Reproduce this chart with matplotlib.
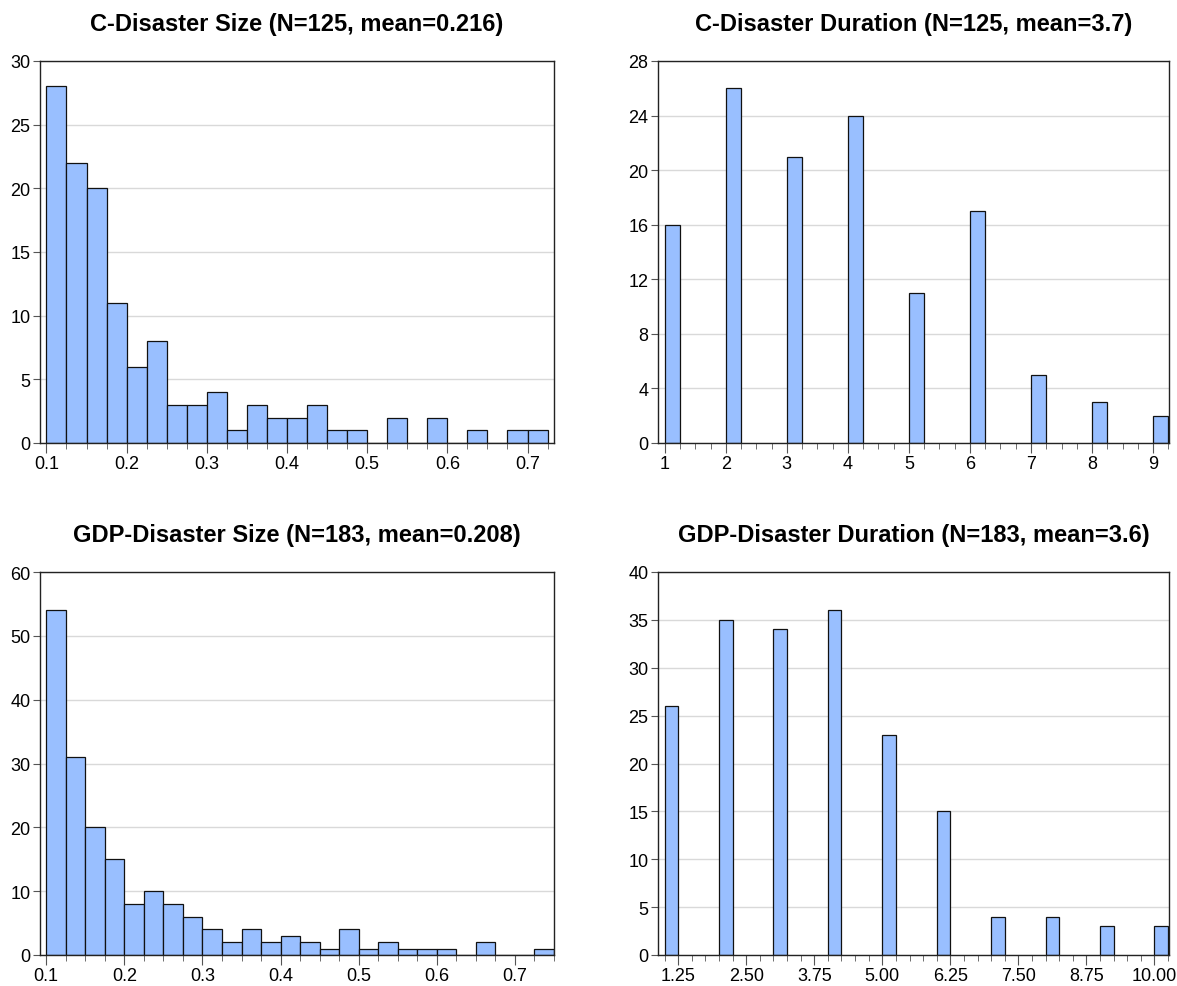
# histograms of disaster size and duration (consumption and GDP disasters)

import numpy as np
import matplotlib.pyplot as plt
from matplotlib.ticker import MultipleLocator, FixedLocator, FormatStrFormatter

plt.rcParams['font.family'] = ['Liberation Sans', 'DejaVu Sans']

## data
# C-disaster size: bins of width 0.025 starting at 0.1
c_size_start = 0.1
c_size_width = 0.025
c_size_counts = [28, 22, 20, 11, 6, 8, 3, 3, 4, 1, 3, 2, 2, 3, 1, 1, 0, 2, 0, 2, 0, 1, 0, 1, 1]

# C-disaster duration (years)
c_dur_years = [1, 2, 3, 4, 5, 6, 7, 8, 9]
c_dur_counts = [16, 26, 21, 24, 11, 17, 5, 3, 2]

# GDP-disaster size
gdp_size_start = 0.1
gdp_size_width = 0.025
gdp_size_counts = [54, 31, 20, 15, 8, 10, 8, 6, 4, 2, 4, 2, 3, 2, 1, 4, 1, 2, 1, 1, 1, 0, 2, 0, 0, 1]

# GDP-disaster duration
gdp_dur_years = [1, 2, 3, 4, 5, 6, 7, 8, 9, 10]
gdp_dur_counts = [26, 35, 34, 36, 23, 15, 4, 4, 3, 3]
dur_width = 0.25

titles = ['C-Disaster Size (N=125, mean=0.216)',
          'C-Disaster Duration (N=125, mean=3.7)',
          'GDP-Disaster Size (N=183, mean=0.208)',
          'GDP-Disaster Duration (N=183, mean=3.6)']

bar_color = '#99bfff'

fig = plt.figure(figsize=(11.77, 9.87), dpi=100)
W, H = 1177, 987

def make_ax(left, top, right, bottom):
    return fig.add_axes([left / W, 1 - bottom / H, (right - left) / W, (bottom - top) / H])

ax1 = make_ax(40, 62, 554, 444)
ax2 = make_ax(658, 62, 1169, 444)
ax3 = make_ax(40, 573, 554, 956)
ax4 = make_ax(658, 573, 1169, 956)


def style(ax, title):
    ax.set_title(title, fontsize=17, fontweight='bold', pad=22)
    for s in ax.spines.values():
        s.set_color('#222222')
        s.set_linewidth(1.0)
    ax.yaxis.grid(True, color='#d9d9d9', linewidth=1.0)
    ax.set_axisbelow(True)
    ax.tick_params(axis='y', which='major', direction='out', length=5, labelsize=13, pad=2,
                   color='#555555', right=False)
    ax.tick_params(axis='x', which='major', direction='out', length=7, labelsize=13, pad=2,
                   color='#555555', top=False)
    ax.tick_params(axis='x', which='minor', direction='out', length=4, color='#555555', top=False)


# size panels
for ax, start, width, counts, top_y, step, xmax, title in [
        (ax1, c_size_start, c_size_width, c_size_counts, 30, 5, 0.733, titles[0]),
        (ax3, gdp_size_start, gdp_size_width, gdp_size_counts, 60, 10, 0.750, titles[2])]:
    edges = start + width * np.arange(len(counts))
    ax.bar(edges, counts, width=width, align='edge', color=bar_color,
           edgecolor='#111111', linewidth=0.9)
    ax.set_xlim(0.092, xmax)
    ax.set_ylim(0, top_y)
    ax.yaxis.set_major_locator(MultipleLocator(step))
    ax.xaxis.set_major_locator(FixedLocator([0.1, 0.2, 0.3, 0.4, 0.5, 0.6, 0.7]))
    ax.xaxis.set_minor_locator(MultipleLocator(width))
    ax.xaxis.set_major_formatter(FormatStrFormatter('%.1f'))
    style(ax, title)

# duration panels
ax2.bar(c_dur_years, c_dur_counts, width=dur_width, align='edge', color=bar_color,
        edgecolor='#111111', linewidth=0.9)
ax2.set_xlim(0.89, 9.26)
ax2.set_ylim(0, 28)
ax2.yaxis.set_major_locator(MultipleLocator(4))
ax2.xaxis.set_major_locator(MultipleLocator(1))
ax2.xaxis.set_minor_locator(MultipleLocator(dur_width))
style(ax2, titles[1])

ax4.bar(gdp_dur_years, gdp_dur_counts, width=dur_width, align='edge', color=bar_color,
        edgecolor='#111111', linewidth=0.9)
ax4.set_xlim(0.877, 10.27)
ax4.set_ylim(0, 40)
ax4.yaxis.set_major_locator(MultipleLocator(5))
ax4.xaxis.set_major_locator(FixedLocator([1.25, 2.5, 3.75, 5.0, 6.25, 7.5, 8.75, 10.0]))
ax4.xaxis.set_minor_locator(MultipleLocator(dur_width))
ax4.xaxis.set_major_formatter(FormatStrFormatter('%.2f'))
style(ax4, titles[3])

plt.savefig('out.png', dpi=100)
